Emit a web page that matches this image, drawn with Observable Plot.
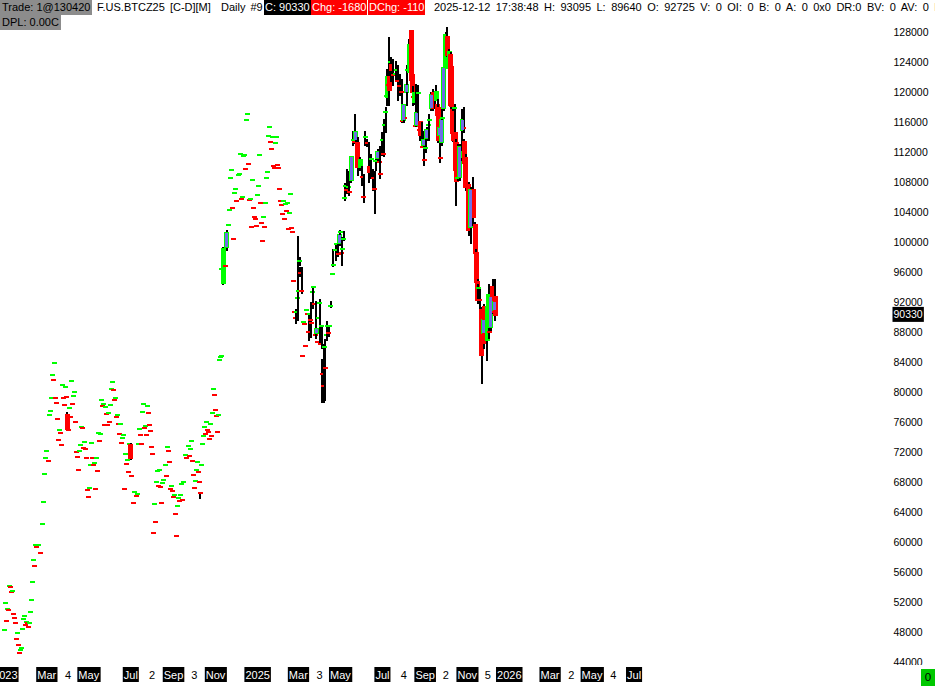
<!DOCTYPE html>
<html><head><meta charset="utf-8">
<script src="https://cdn.jsdelivr.net/npm/d3@7"></script>
<script src="https://cdn.jsdelivr.net/npm/@observablehq/plot@0.6"></script>
<style>
html,body{margin:0;padding:0;background:#fff;}
#wrap{position:relative;width:935px;height:686px;overflow:hidden;font-family:"Liberation Sans",Arial,sans-serif;}
#chart{position:absolute;left:0;top:0;}
#hdr span{position:absolute;height:15px;line-height:15px;font-size:11px;white-space:pre;color:#000;padding:0 1px;}
#hdr .gray{background:#8c8c8c;padding:0 2px;}
#hdr .blk{background:#000;color:#fff;}
#hdr .red{background:#ff0000;color:#fff;}
#hdr .wide1{word-spacing:2px;}
#hdr .wide2{word-spacing:2.4px;}
#zero{position:absolute;left:921px;top:669px;width:14px;height:17px;background:#00c800;font-size:11.5px;line-height:17px;text-align:center;color:#000;}
</style></head>
<body><div id="wrap"><div id="chart"></div><div id="hdr"></div><div id="zero">0</div></div>
<script>
// ---- Single-price days (open = high = low = close) ----
const singleDates = [
"2023-12-31","2024-01-01","2024-01-03","2024-01-04","2024-01-06","2024-01-07","2024-01-09","2024-01-10","2024-01-11","2024-01-13",
"2024-01-14","2024-01-16","2024-01-17","2024-01-19","2024-01-20","2024-01-22","2024-01-23","2024-01-24","2024-01-26","2024-01-27",
"2024-01-29","2024-01-30","2024-02-01","2024-02-02","2024-02-04","2024-02-05","2024-02-07","2024-02-08","2024-02-09","2024-02-11",
"2024-02-12","2024-02-14","2024-02-15","2024-02-18","2024-02-21","2024-02-24","2024-02-25","2024-02-27","2024-02-28","2024-03-01",
"2024-03-04","2024-03-05","2024-03-07","2024-03-08","2024-03-09","2024-03-11","2024-03-12","2024-03-14","2024-03-15","2024-03-17",
"2024-03-18","2024-03-20","2024-03-21","2024-03-22","2024-03-24","2024-03-25","2024-03-27","2024-03-28","2024-03-30","2024-04-02",
"2024-04-03","2024-04-05","2024-04-06","2024-04-07","2024-04-09","2024-04-10","2024-04-12","2024-04-13","2024-04-15","2024-04-16",
"2024-04-18","2024-04-19","2024-04-21","2024-04-22","2024-04-23","2024-04-25","2024-04-26","2024-04-28","2024-04-29","2024-05-01",
"2024-05-02","2024-05-04","2024-05-05","2024-05-06","2024-05-08","2024-05-09","2024-05-11","2024-05-12","2024-05-14","2024-05-15",
"2024-05-17","2024-05-18","2024-05-20","2024-05-21","2024-05-22","2024-05-24","2024-05-25","2024-05-27","2024-05-28","2024-05-30",
"2024-05-31","2024-06-02","2024-06-03","2024-06-04","2024-06-06","2024-06-07","2024-06-09","2024-06-10","2024-06-12","2024-06-13",
"2024-06-15","2024-06-16","2024-06-18","2024-06-19","2024-06-20","2024-06-22","2024-06-23","2024-06-25","2024-06-26","2024-06-28",
"2024-06-29","2024-07-02","2024-07-05","2024-07-06","2024-07-09","2024-07-11","2024-07-12","2024-07-14","2024-07-15","2024-07-17",
"2024-07-18","2024-07-19","2024-07-21","2024-07-22","2024-07-24","2024-07-25","2024-07-27","2024-07-28","2024-07-30","2024-07-31",
"2024-08-01","2024-08-03","2024-08-04","2024-08-06","2024-08-07","2024-08-09","2024-08-10","2024-08-12","2024-08-13","2024-08-15",
"2024-08-16","2024-08-17","2024-08-20","2024-08-22","2024-08-23","2024-08-25","2024-08-26","2024-08-28","2024-08-29","2024-08-31",
"2024-09-01","2024-09-02","2024-09-04","2024-09-05","2024-09-07","2024-09-08","2024-09-10","2024-09-11","2024-09-13","2024-09-14",
"2024-09-15","2024-09-18","2024-09-20","2024-09-23","2024-09-24","2024-09-26","2024-09-27","2024-09-29","2024-09-30","2024-10-01",
"2024-10-03","2024-10-04","2024-10-06","2024-10-07","2024-10-09","2024-10-12","2024-10-13","2024-10-14","2024-10-16","2024-10-17",
"2024-10-19","2024-10-20","2024-10-22","2024-10-23","2024-10-25","2024-10-26","2024-10-28","2024-10-29","2024-10-30","2024-11-01",
"2024-11-02","2024-11-04","2024-11-05","2024-11-07","2024-11-08","2024-11-09","2024-11-10","2024-11-15","2024-11-20","2024-11-21",
"2024-11-23","2024-11-24","2024-11-26","2024-11-27","2024-11-28","2024-11-30","2024-12-01","2024-12-04","2024-12-06","2024-12-07",
"2024-12-09","2024-12-10","2024-12-12","2024-12-13","2024-12-14","2024-12-16","2024-12-17","2024-12-19","2024-12-20","2024-12-22",
"2024-12-23","2024-12-25","2024-12-26","2024-12-27","2024-12-29","2024-12-30","2025-01-01","2025-01-02","2025-01-04","2025-01-05",
"2025-01-07","2025-01-08","2025-01-10","2025-01-11","2025-01-12","2025-01-14","2025-01-15","2025-01-17","2025-01-18","2025-01-20",
"2025-01-21","2025-01-23","2025-01-24","2025-01-25","2025-01-27","2025-01-28","2025-01-30","2025-01-31","2025-02-02","2025-02-03",
"2025-02-05","2025-02-06","2025-02-08","2025-02-09","2025-02-10","2025-02-12","2025-02-13","2025-02-15","2025-02-16","2025-02-18",
"2025-02-19","2025-02-21","2025-02-22","2025-02-23","2025-02-25","2025-03-07","2025-03-09","2025-03-10","2025-03-11","2025-03-13",
"2025-03-14","2025-03-17","2025-03-20","2025-03-22","2025-03-24","2025-03-29","2025-03-30","2025-04-02","2025-04-09","2025-04-15",
"2025-04-20","2025-04-25"];
const singlePrices = [
48270,51870,49470,51070,50930,54130,54000,53330,53470,50400,
49870,49200,47070,47870,46270,45200,45600,45870,48400,49730,
50130,48930,49330,49200,48670,49200,50670,52270,54670,57600,
56800,59600,59330,59600,58530,62400,65330,69070,71200,72130,
70800,76930,77470,79200,82270,81600,83870,79200,78530,76400,
73600,74930,74530,72930,80930,79200,78270,80670,79330,74930,
77870,76670,81470,78400,79470,80000,76000,72000,71330,69600,
72130,72930,75330,75200,72530,73330,72400,71200,66930,66000,
67200,70270,73200,71200,70270,70530,67070,71200,69470,74530,
73470,74400,78930,78130,78400,75600,78000,77070,75600,77200,
76000,78270,80400,81330,80270,78930,79200,76670,76930,75730,
74400,75730,73200,73870,74270,67070,71730,70400,70930,69330,
73070,68800,65200,66670,66130,66400,73070,75070,74270,73070,
77330,78400,75200,75470,74270,78130,77200,75600,74800,72670,
71730,61200,65070,62670,68000,69470,67470,69600,67330,65200,
67870,68270,70270,68800,72670,72130,70670,67070,67470,66800,
66000,66270,63730,60800,64800,65870,65470,66270,67730,65600,
68000,71600,71200,72800,71470,72400,73470,70800,68930,67200,
68130,69600,70670,69330,68000,70270,73070,74130,75330,74400,
76000,74930,74670,73730,75730,74130,77200,80400,79600,77600,
76800,74670,76930,84270,84670,84800,96400,96800,102270,104270,
108530,109600,104530,100400,106530,107070,105470,108930,109070,111730,
105730,106000,111470,111600,109730,116270,117070,110400,105600,105730,
102000,108270,104530,103330,103070,102130,106270,107470,111600,105200,
102530,100130,103330,102000,105200,108530,109330,114130,115330,113330,
112400,114000,110130,109870,113200,114000,110270,109870,107070,105470,
104930,103730,105470,103070,105070,104130,105200,101730,103870,106400,
101870,101330,94800,90670,89870,84800,89330,89070,86130,90930,
90400,90400,89200,93330,91730,86670,89870,86400,83200,88800,
95730,99730];

// ---- Daily OHLC bars ----
const barDates = [
"2024-03-31","2024-07-01","2024-10-10","2024-11-12","2024-11-17","2025-02-26","2025-02-28","2025-03-01","2025-03-03","2025-03-04",
"2025-03-06","2025-03-16","2025-03-19","2025-03-23","2025-03-26","2025-03-27","2025-04-01","2025-04-04","2025-04-05","2025-04-07",
"2025-04-08","2025-04-11","2025-04-12","2025-04-14","2025-04-17","2025-04-21","2025-04-24","2025-04-28","2025-04-30","2025-05-01",
"2025-05-03","2025-05-04","2025-05-06","2025-05-07","2025-05-08","2025-05-10","2025-05-13","2025-05-14","2025-05-17","2025-05-20",
"2025-05-22","2025-05-23","2025-05-24","2025-05-26","2025-05-30","2025-06-02","2025-06-04","2025-06-06","2025-06-09","2025-06-12",
"2025-06-15","2025-06-18","2025-06-20","2025-06-21","2025-06-24","2025-06-27","2025-06-28","2025-07-01","2025-07-03","2025-07-04",
"2025-07-06","2025-07-07","2025-07-08","2025-07-10","2025-07-11","2025-07-13","2025-07-14","2025-07-17","2025-07-20","2025-07-21",
"2025-07-23","2025-07-26","2025-07-29","2025-07-30","2025-08-01","2025-08-02","2025-08-05","2025-08-06","2025-08-09","2025-08-12",
"2025-08-14","2025-08-15","2025-08-17","2025-08-18","2025-08-19","2025-08-22","2025-08-24","2025-08-25","2025-08-28","2025-08-30",
"2025-08-31","2025-09-02","2025-09-03","2025-09-06","2025-09-07","2025-09-10","2025-09-13","2025-09-15","2025-09-17","2025-09-19",
"2025-09-20","2025-09-22","2025-09-23","2025-09-25","2025-09-26","2025-09-28","2025-10-01","2025-10-03","2025-10-06","2025-10-08",
"2025-10-09","2025-10-11","2025-10-12","2025-10-14","2025-10-15","2025-10-16","2025-10-18","2025-10-21","2025-10-24","2025-10-25",
"2025-10-27","2025-10-28","2025-10-30","2025-11-03","2025-11-06","2025-11-09","2025-11-10","2025-11-13","2025-11-14","2025-11-16",
"2025-11-17","2025-11-19","2025-11-22","2025-11-25","2025-11-26","2025-11-29","2025-11-30","2025-12-02","2025-12-03","2025-12-05",
"2025-12-08","2025-12-11","2025-12-12"];
const barOpen = [
76930,72930,66530,94530,99330,90670,92530,93470,97470,95870,
93470,88000,89600,94000,87600,87870,91870,88800,82400,80800,
86000,87600,88800,87870,91470,97000,98930,98400,99870,101330,
98530,99070,100400,105870,107470,106930,107330,106670,108270,113600,
113330,113600,113730,113200,110000,108670,106000,114000,113200,110000,
111070,108530,107070,110800,111200,110670,109070,113600,111730,115600,
117330,119470,119330,120930,122000,124000,123600,122270,122400,122930,
121470,120800,120000,116130,116270,116530,120000,122930,122670,128130,
122270,119330,118670,115470,115600,119870,114930,116000,112670,112930,
110930,112530,113870,115600,116270,117870,119870,119470,118930,118270,
117870,114270,111200,113330,116530,117870,123200,127330,123330,124930,
123330,117600,117330,117870,114530,113200,108530,108670,111330,114930,
115200,113330,111200,107600,102000,106000,106930,102270,98530,94670,
93870,92270,90930,87870,91330,88930,86930,91330,88000,88670,
94000,90930,92725];
const barHigh = [
77200,73070,66530,99200,101470,90930,100670,94530,97870,96530,
96530,90270,91870,94000,92000,88400,92270,88800,84270,86270,
86930,88270,89330,88530,92000,98930,99730,99870,101200,101470,
99330,100530,101330,106670,107730,109600,109330,108270,111330,114670,
116930,114670,114130,113870,111200,110000,108930,114670,113600,113200,
111600,109600,109330,111330,112270,112670,110930,114530,112930,116270,
117870,120000,122930,127200,122270,124530,124270,124270,124000,123600,
123470,122270,121600,118930,118270,117600,120930,123470,126930,128130,
122270,120670,119870,120930,117600,120800,116000,116000,115870,114670,
112000,113600,115200,116270,116930,119870,120270,119600,120800,118930,
118270,115600,113330,116530,118930,123200,127870,128530,125600,125200,
123330,117870,117600,118270,114930,113600,112930,112930,115600,117600,
117870,113600,111600,107870,107200,106930,108530,102530,98930,94930,
94270,93600,91200,89870,91600,89330,91600,94270,89600,93330,
94930,94930,93095];
const barLow = [
74930,71070,65870,94400,98930,89200,89600,91330,96930,95470,
93200,86930,87330,91200,87200,87330,86530,85870,78670,78670,
78930,86930,87330,87470,91330,96800,97600,98130,99600,100530,
97000,97000,100270,105600,106400,106530,106670,106270,108000,112930,
113200,113470,113470,108930,109600,107600,105330,112930,112800,108000,
108530,106930,103870,109600,110930,110270,108530,111600,111470,112530,
114670,118270,119330,118270,120000,121470,121600,120930,121470,121600,
118930,119600,118930,116000,116000,116000,118270,119600,122670,120000,
119600,118270,118400,115470,115470,116270,113600,114270,112670,111200,
110270,112000,113600,113600,114930,117600,117600,117870,118930,116800,
113330,113870,110670,112930,116270,117600,123200,124800,123330,118270,
117870,114270,113470,114270,109330,104930,108270,108270,110930,114000,
114670,110270,106930,100930,99870,103330,102270,98270,94270,91870,
92270,90930,81200,86670,85870,84270,86270,91200,87200,88270,
90530,89600,89640];
const barClose = [
75070,71200,66530,99070,101200,90670,92530,93470,97470,95870,
93470,88000,89600,94000,87600,88400,91870,88800,82400,80800,
86000,87600,88800,87870,91470,97000,98930,98400,100930,101330,
98530,99070,100400,105870,107470,106930,107330,106670,111330,113600,
113330,114670,113730,110000,110930,108670,106000,114000,113200,109330,
111070,108530,107070,110800,112000,110670,109070,113600,111730,115600,
117330,119470,122000,120930,120270,124000,122930,122270,122400,122930,
121470,120800,120000,116130,118270,116530,120930,122930,126270,121600,
120000,119330,119870,115470,117200,119870,114930,114270,112670,113600,
110930,112530,114930,115600,116270,119600,117870,118930,120000,116930,
113600,115200,111200,116270,116530,123200,127600,124930,125330,118270,
118130,114530,113600,117870,109600,108130,108530,112670,112000,116270,
115200,110530,107330,101600,106930,106000,103330,98530,94670,92270,
93870,92270,84930,89600,86530,86930,91330,92930,88000,92670,
90670,92010,90330];

// ---- Axis tick labels ----
const priceTicks = [128000,124000,120000,116000,112000,108000,104000,100000,96000,92000,88000,84000,80000,76000,72000,68000,64000,60000,56000,52000,48000,44000];
const monthTickDates = ["2024-01-01","2024-03-01","2024-04-01","2024-05-01","2024-07-01","2024-08-01","2024-09-01","2024-10-01","2024-11-01","2025-01-01","2025-03-01","2025-04-01","2025-05-01","2025-07-01","2025-08-01","2025-09-01","2025-10-01","2025-11-01","2025-12-01","2026-01-01","2026-03-01","2026-04-01","2026-05-01","2026-06-01","2026-07-01"];
const monthTickLabels = ["2023","Mar","4","May","Jul","2","Sep","3","Nov","2025","Mar","3","May","Jul","4","Sep","2","Nov","5","2026","Mar","2","May","4","Jul"];

// ---- Header info ----
const symbolLabel = "F.US.BTCZ25 [C-D][M]";
const periodLabel = "Daily #9";
const lastTradeLabel = "1@130420";
const quoteTime = "2025-12-12 17:38:48";
const dChgLabel = "-110";
const dplLabel = "0.00C";

// ---- Build candles ----
const GREEN = "#00ff00", RED = "#ff0000", BLUE = "#6e6ee6", WICK = "#000000";
const rows = [];
singleDates.forEach((d, i) => rows.push({date: new Date(d), o: singlePrices[i], h: singlePrices[i], l: singlePrices[i], c: singlePrices[i]}));
barDates.forEach((d, i) => rows.push({date: new Date(d), o: barOpen[i], h: barHigh[i], l: barLow[i], c: barClose[i]}));
rows.sort((a, b) => a.date - b.date);

const segs = [], hollows = [];
let prevC = null, prevDir = 1;
for (const r of rows) {
  let dir;
  if (r.c > r.o) dir = 1;
  else if (r.c < r.o) dir = -1;
  else if (prevC == null || r.c === prevC) dir = prevDir;
  else dir = r.c > prevC ? 1 : -1;
  const col = dir > 0 ? GREEN : RED;
  if (r.h > r.l) segs.push({date: r.date, top: r.h, bot: r.l, stroke: WICK, w: 2});
  segs.push({date: r.date, top: Math.max(r.o, r.c), bot: Math.min(r.o, r.c), stroke: col, w: 5});
  if (r.c > r.o && prevC != null && r.o > prevC) hollows.push({date: r.date, top: r.c, bot: r.o});
  prevC = r.c; prevDir = dir;
}
const last = rows[rows.length - 1];
const prev = rows[rows.length - 2];

const chart = Plot.plot({
  width: 935, height: 686,
  marginLeft: 0, marginRight: 45, marginTop: 32, marginBottom: 24,
  x: {type: "utc", domain: [new Date("2023-12-25"), new Date("2027-07-08")], axis: null},
  y: {domain: [44000, 128000], axis: null},
  color: {type: "identity"},
  style: {background: "#fff", fontFamily: "Liberation Sans, Arial, sans-serif"},
  marks: [
    Plot.ruleX(segs, {x: "date", y1: "top", y2: "bot", stroke: "stroke", strokeWidth: "w", insetTop: -1, insetBottom: -1, shapeRendering: "crispEdges"}),
    Plot.ruleX(hollows, {x: "date", y1: "top", y2: "bot", stroke: BLUE, strokeWidth: 3, shapeRendering: "crispEdges"}),
    Plot.text(priceTicks, {y: d => d, text: d => String(d), frameAnchor: "right", dx: 3, textAnchor: "start", fontSize: 10.5, fill: "#000"}),
    Plot.text([last.c], {y: d => d, text: d => String(d), frameAnchor: "right", dx: 3, textAnchor: "start", fontSize: 10.5, fill: "#fff"}),
    Plot.text(d3.range(monthTickDates.length), {x: i => new Date(monthTickDates[i]), text: i => monthTickLabels[i], frameAnchor: "bottom", dy: 16, fontSize: 11, fill: i => monthTickLabels[i].length > 1 ? "#fff" : "#000"})
  ]
});
document.getElementById("chart").append(chart);

// boxes behind labels
const NS = "http://www.w3.org/2000/svg";
const textGroups = chart.querySelectorAll('g[aria-label="text"]');
const yLabelG = textGroups[0], lastG = textGroups[1], xLabelG = textGroups[2];
function addBoxes(g, color, test) {
  if (!g) return;
  g.querySelectorAll("text").forEach(t => {
    if (!test(t)) return;
    const b = t.getBBox();
    const r = document.createElementNS(NS, "rect");
    const cy = b.y + b.height / 2;
    r.setAttribute("x", b.x - 1); r.setAttribute("y", cy - 7.5);
    r.setAttribute("width", b.width + 2); r.setAttribute("height", 15);
    r.setAttribute("fill", color);
    if (t.getAttribute("transform")) r.setAttribute("transform", t.getAttribute("transform"));
    t.parentNode.insertBefore(r, t);
  });
}
// white strip under the plot area (clips lowest price label)
if (xLabelG) {
  const strip = document.createElementNS(NS, "rect");
  strip.setAttribute("x", 0); strip.setAttribute("y", 665);
  strip.setAttribute("width", 935); strip.setAttribute("height", 21);
  strip.setAttribute("fill", "#fff");
  xLabelG.parentNode.insertBefore(strip, xLabelG);
}
addBoxes(xLabelG, "#000", t => t.textContent.length > 1);
addBoxes(lastG, "#000", t => true);

// header
const chg = last.c - prev.c;
const hdrItems = [
  {left: 0, top: 0, text: `Trade: ${lastTradeLabel}`, cls: "gray"},
  {left: 96, top: 0, text: `${symbolLabel}  ${periodLabel}`, cls: "wide1"},
  {left: 264, top: 0, text: `C: ${last.c}`, cls: "blk"},
  {left: 311, top: 0, text: `Chg: ${chg}`, cls: chg < 0 ? "red" : "blk"},
  {left: 368, top: 0, text: `DChg: ${dChgLabel}`, cls: "red"},
  {left: 433, top: 0, text: `${quoteTime} H: ${last.h} L: ${last.l} O: ${last.o} V: 0 OI: 0 B: 0 A: 0 0x0 DR:0 BV: 0 AV: 0 DV: 0`, cls: "wide2"},
  {left: 0, top: 15, text: `DPL: ${dplLabel}`, cls: "gray"}
];
const hdr = document.getElementById("hdr");
hdrItems.forEach(it => {
  const s = document.createElement("span");
  s.textContent = it.text;
  if (it.cls) s.className = it.cls;
  s.style.left = it.left + "px"; s.style.top = it.top + "px";
  hdr.append(s);
});
</script></body></html>
